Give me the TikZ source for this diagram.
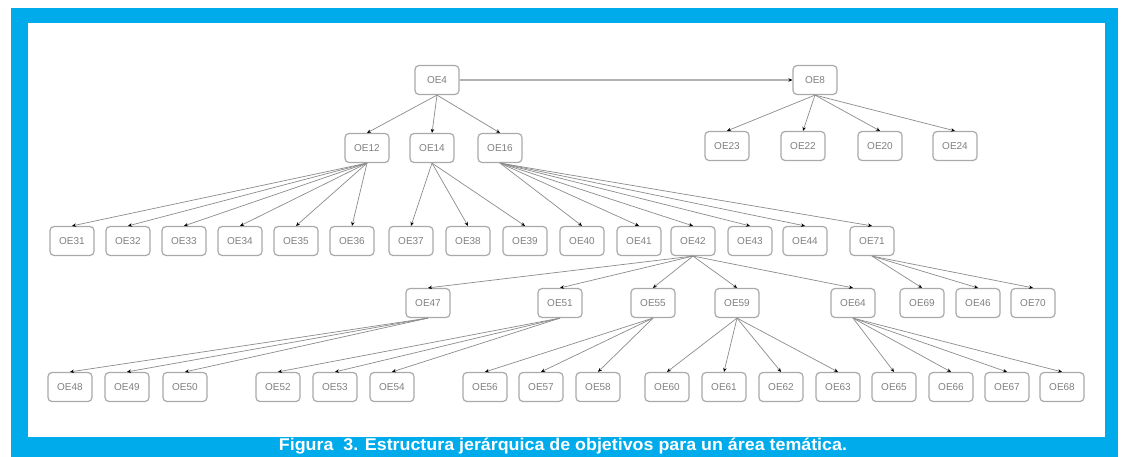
\documentclass[tikz,border=0pt]{standalone}
\usepackage{fontspec}
\setmainfont{Liberation Sans}
\usetikzlibrary{arrows.meta}
\definecolor{marco}{RGB}{0,171,236}
\definecolor{borde}{RGB}{170,170,170}

\begin{document}
\begin{tikzpicture}[x=1pt,y=-1pt,>={Stealth[length=4pt,width=3.5pt,black]},
  oe/.style={draw=borde,line width=1.2pt,rounded corners=4pt,fill=white,
    minimum width=44pt,minimum height=29pt,inner sep=1pt,
    font=\fontsize{10}{11}\selectfont,text=black!50},
  rama/.style={draw=black!45,line width=0.7pt,->}]
  \useasboundingbox (0,0) rectangle (1129,457);

  % Frame
  \fill[marco] (11,8) rectangle (1118,457);
  \fill[white] (28,23) rectangle (1105,437);

  % Level 1
  \node[oe] (oe4) at (437,80) {OE4};
  \node[oe] (oe8) at (815,80) {OE8};

  % Level 2
  \node[oe] (oe12) at (367,148) {OE12};
  \node[oe] (oe14) at (432,148) {OE14};
  \node[oe] (oe16) at (500,148) {OE16};
  \node[oe] (oe23) at (727,146) {OE23};
  \node[oe] (oe22) at (803,146) {OE22};
  \node[oe] (oe20) at (880,146) {OE20};
  \node[oe] (oe24) at (955,146) {OE24};

  % Level 3
  \node[oe] (oe31) at (72,241) {OE31};
  \node[oe] (oe32) at (128,241) {OE32};
  \node[oe] (oe33) at (184,241) {OE33};
  \node[oe] (oe34) at (240,241) {OE34};
  \node[oe] (oe35) at (296,241) {OE35};
  \node[oe] (oe36) at (352,241) {OE36};
  \node[oe] (oe37) at (411,241) {OE37};
  \node[oe] (oe38) at (468,241) {OE38};
  \node[oe] (oe39) at (525,241) {OE39};
  \node[oe] (oe40) at (582,241) {OE40};
  \node[oe] (oe41) at (639,241) {OE41};
  \node[oe] (oe42) at (693,241) {OE42};
  \node[oe] (oe43) at (750,241) {OE43};
  \node[oe] (oe44) at (805,241) {OE44};
  \node[oe] (oe71) at (872,241) {OE71};

  % Level 4
  \node[oe] (oe47) at (428,303) {OE47};
  \node[oe] (oe51) at (560,303) {OE51};
  \node[oe] (oe55) at (653,303) {OE55};
  \node[oe] (oe59) at (737,303) {OE59};
  \node[oe] (oe64) at (853,303) {OE64};
  \node[oe] (oe69) at (922,303) {OE69};
  \node[oe] (oe46) at (978,303) {OE46};
  \node[oe] (oe70) at (1033,303) {OE70};

  % Level 5
  \node[oe] (oe48) at (70,387) {OE48};
  \node[oe] (oe49) at (127,387) {OE49};
  \node[oe] (oe50) at (185,387) {OE50};
  \node[oe] (oe52) at (278,387) {OE52};
  \node[oe] (oe53) at (335,387) {OE53};
  \node[oe] (oe54) at (392,387) {OE54};
  \node[oe] (oe56) at (485,387) {OE56};
  \node[oe] (oe57) at (541,387) {OE57};
  \node[oe] (oe58) at (598,387) {OE58};
  \node[oe] (oe60) at (667,387) {OE60};
  \node[oe] (oe61) at (724,387) {OE61};
  \node[oe] (oe62) at (781,387) {OE62};
  \node[oe] (oe63) at (838,387) {OE63};
  \node[oe] (oe65) at (894,387) {OE65};
  \node[oe] (oe66) at (951,387) {OE66};
  \node[oe] (oe67) at (1007,387) {OE67};
  \node[oe] (oe68) at (1062,387) {OE68};

  % Links
  \draw[rama,draw=black!30,line width=2pt] (oe4) -- (oe8);
  \foreach \p/\hs in {oe4/{oe12,oe14,oe16}, oe8/{oe23,oe22,oe20,oe24},
      oe12/{oe31,oe32,oe33,oe34,oe35,oe36}, oe14/{oe37,oe38,oe39},
      oe16/{oe40,oe41,oe42,oe43,oe44,oe71},
      oe42/{oe47,oe51,oe55,oe59,oe64}, oe71/{oe69,oe46,oe70},
      oe47/{oe48,oe49,oe50}, oe51/{oe52,oe53,oe54}, oe55/{oe56,oe57,oe58},
      oe59/{oe60,oe61,oe62,oe63}, oe64/{oe65,oe66,oe67,oe68}}
    \foreach \h in \hs
      \draw[rama] (\p.south) -- (\h.north);

  % Caption
  \node[text=white,font=\bfseries\fontsize{17}{19}\selectfont,xscale=1.05,
    transform shape] (pie) at (563,446) {Figura\ \ 3. Estructura jerárquica de objetivos para un área temática.};
\end{tikzpicture}
\end{document}
